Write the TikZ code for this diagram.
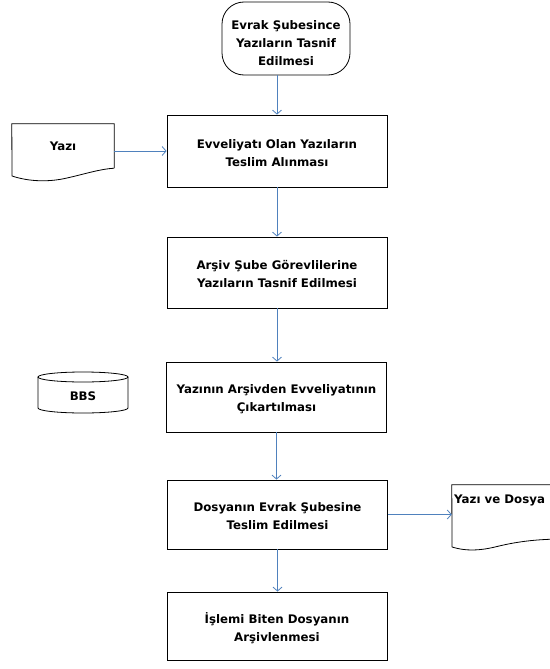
\documentclass[tikz,border=0pt]{standalone}
\usepackage{fontspec}
\setmainfont{DejaVu Sans}
\usetikzlibrary{arrows.meta,calc}
\definecolor{arrblue}{RGB}{79,129,189}
\begin{document}
\begin{tikzpicture}[x=1pt,y=-1pt,
  txt/.style={font=\bfseries\fontsize{11.8}{18}\selectfont, align=center, text=black},
  procbox/.style={draw=black, line width=0.8pt, minimum width=220pt, minimum height=70pt, inner sep=0pt,
    label={[txt,yshift=-2pt]center:{#1}}},
  termbox/.style={draw=black, line width=0.8pt, rounded corners=22pt, minimum width=128pt, minimum height=73pt, inner sep=0pt,
    label={[txt,yshift=-5pt]center:{#1}}},
  arr/.style={draw=arrblue, line width=0.8pt, -{Straight Barb[length=4pt,width=9pt]}},
  shapeline/.style={draw=black, line width=0.8pt}]
\useasboundingbox (0,0) rectangle (549,669);
\fill[white] (0,0) rectangle (549,669);

\node[termbox={Evrak Şubesince\\Yazıların Tasnif\\Edilmesi}] (t) at (286,38.5) {};
\node[procbox={Evveliyatı Olan Yazıların\\Teslim Alınması}, minimum height=72pt] (b1) at (277,151) {};
\node[procbox={Arşiv Şube Görevlilerine\\Yazıların Tasnif Edilmesi}, minimum height=71pt] (b2) at (277,272.5) {};
\node[procbox={Yazının Arşivden Evveliyatının\\Çıkartılması}] (b3) at (276.5,397) {};
\node[procbox={Dosyanın Evrak Şubesine\\Teslim Edilmesi}, minimum height=69pt] (b4) at (277.5,514.5) {};
\node[procbox={İşlemi Biten Dosyanın\\Arşivlenmesi}, minimum height=68pt] (b5) at (277,626) {};

% Yazı document
\node[txt, minimum width=102pt, minimum height=44pt, inner sep=0pt] (yazi) at (63,146) {Yazı};
\draw[shapeline] (yazi.south east) -- (yazi.north east) -- (yazi.north west) -- (12,176)
  .. controls (30,182) and (50,182) .. (67,178)
  .. controls (85,174) and (100,169) .. (yazi.south east);

% BBS cylinder
\node[txt] (bbs) at (83,396) {BBS};
\draw[shapeline] (83,377) ellipse (45pt and 5pt);
\draw[shapeline] (38,377) -- (38,408) arc[start angle=180, end angle=360, x radius=45pt, y radius=5pt] -- (128,377);

% Yazı ve Dosya document
\node[inner sep=0pt, minimum width=113pt, minimum height=55pt] (yd) at (508.5,512.5) {};
\node[txt, anchor=west, inner sep=0pt] (ydt) at (454,500) {Yazı ve Dosya};
\draw[shapeline] (452,547) -- (yd.north west) -- (yd.north east) -- (565,539)
  .. controls (535,539) and (515,542) .. (495,547)
  .. controls (478,551) and (465,551) .. (452,547);

% connectors
\draw[arr] (t.south -| b1.north) -- (b1.north);
\draw[arr] (yazi.east |- b1.west) -- (b1.west);
\draw[arr] (b1.south) -- (b2.north);
\draw[arr] (b2.south) -- (b2.south |- b3.north);
\draw[arr] (b3.south) -- (b3.south |- b4.north);
\draw[arr] (b4.east) -- (b4.east -| yd.west);
\draw[arr] (b4.south) -- (b4.south |- b5.north);
\end{tikzpicture}
\end{document}
